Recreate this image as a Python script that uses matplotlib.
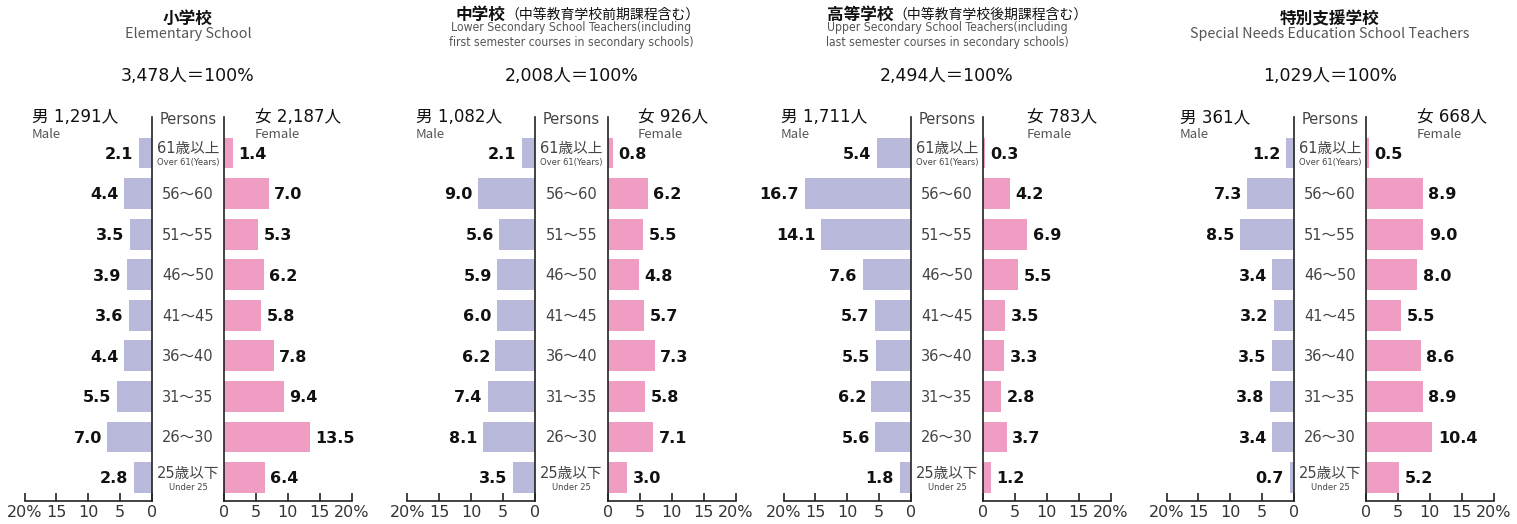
import matplotlib
matplotlib.use('Agg')
import matplotlib.pyplot as plt
from matplotlib import font_manager as fm

plt.rcParams['font.family'] = ['DejaVu Sans', 'Noto Sans CJK JP']

W, H = 1517, 524

# data (percent of teachers in each age group)
ages = ['61歳以上', '56〜60', '51〜55', '46〜50', '41〜45', '36〜40', '31〜35', '26〜30', '25歳以下']
age_sub = {0: 'Over 61(Years)', 8: 'Under 25'}

titles = ['小学校', '中学校', '高等学校', '特別支援学校']
title_notes = ['', '（中等教育学校前期課程含む）', '（中等教育学校後期課程含む）', '']
subtitles = [
    ['Elementary School'],
    ['Lower Secondary School Teachers(including', 'first semester courses in secondary schools)'],
    ['Upper Secondary School Teachers(including', 'last semester courses in secondary schools)'],
    ['Special Needs Education School Teachers'],
]
totals = ['3,478', '2,008', '2,494', '1,029']
male_n = ['1,291', '1,082', '1,711', '361']
female_n = ['2,187', '926', '783', '668']

male_pct = [
    [2.1, 4.4, 3.5, 3.9, 3.6, 4.4, 5.5, 7.0, 2.8],
    [2.1, 9.0, 5.6, 5.9, 6.0, 6.2, 7.4, 8.1, 3.5],
    [5.4, 16.7, 14.1, 7.6, 5.7, 5.5, 6.2, 5.6, 1.8],
    [1.2, 7.3, 8.5, 3.4, 3.2, 3.5, 3.8, 3.4, 0.7],
]
female_pct = [
    [1.4, 7.0, 5.3, 6.2, 5.8, 7.8, 9.4, 13.5, 6.4],
    [0.8, 6.2, 5.5, 4.8, 5.7, 7.3, 5.8, 7.1, 3.0],
    [0.3, 4.2, 6.9, 5.5, 3.5, 3.3, 2.8, 3.7, 1.2],
    [0.5, 8.9, 9.0, 8.0, 5.5, 8.6, 8.9, 10.4, 5.2],
]

male_color = '#b9b9dc'
female_color = '#f09dc4'

# a narrow face for the small English notes, if one is installed
names = {f.name for f in fm.fontManager.ttflist}
cond = dict(family=['Noto Sans CJK JP', 'DejaVu Sans'])
shrink = 0.8
if 'Liberation Sans Narrow' in names:
    cond = dict(family=['Liberation Sans Narrow', 'Noto Sans CJK JP'])
    shrink = 0.95
elif any(f.name == 'DejaVu Sans' and f.stretch == 'condensed' for f in fm.fontManager.ttflist):
    cond = dict(family=['DejaVu Sans', 'Noto Sans CJK JP'], stretch='condensed')
    shrink = 0.87
cjk = ['Noto Sans CJK JP', 'DejaVu Sans']

# layout in pixels
male_zero = [152, 535, 911, 1294]
female_zero = [224, 608, 983, 1366]
male_head_x = [32, 416, 781, 1180]
female_head_x = [255, 638, 1027, 1417]
title_split = [None, 505, 893, None]
axis_w = 127.5
ax_top, ax_bot = 117, 501
row0, pitch = 153, 40.56


def fx(x):
    return x / W


def fy(y):
    return 1 - y / H


fig = plt.figure(figsize=(W / 100, H / 100), dpi=100)

ylo = (ax_bot - row0) / pitch
yhi = (ax_top - row0) / pitch

for p in range(4):
    m0, f0 = male_zero[p], female_zero[p]
    cx = (m0 + f0) / 2

    axm = fig.add_axes([fx(m0 - axis_w), fy(ax_bot), axis_w / W, (ax_bot - ax_top) / H])
    axf = fig.add_axes([fx(f0), fy(ax_bot), axis_w / W, (ax_bot - ax_top) / H])

    axm.barh(range(9), male_pct[p], height=0.76, color=male_color)
    axf.barh(range(9), female_pct[p], height=0.76, color=female_color)

    axm.set_xlim(20, 0)
    axf.set_xlim(0, 20)
    for ax in (axm, axf):
        ax.set_ylim(ylo, yhi)
        ax.set_yticks([])
        ax.patch.set_alpha(0)
        ax.spines['top'].set_visible(False)
        for s in ('left', 'right', 'bottom'):
            ax.spines[s].set_linewidth(1.2)
            ax.spines[s].set_color('#222222')
        ax.tick_params(axis='x', direction='in', length=6, width=1.2,
                       color='#222222', labelsize=11.5, labelcolor='#333333', pad=3)
    axm.spines['left'].set_visible(False)
    axf.spines['right'].set_visible(False)
    axm.set_xticks([20, 15, 10, 5, 0], ['20%', '15', '10', '5', '0'])
    axf.set_xticks([0, 5, 10, 15, 20], ['0', '5', '10', '15', '20%'])

    for i in range(9):
        axm.annotate(f'{male_pct[p][i]:.1f}', (male_pct[p][i], i), xytext=(-4, -1),
                     textcoords='offset points', ha='right', va='center',
                     fontsize=11.5, fontweight='bold', color='#111111')
        axf.annotate(f'{female_pct[p][i]:.1f}', (female_pct[p][i], i), xytext=(4, -1),
                     textcoords='offset points', ha='left', va='center',
                     fontsize=11.5, fontweight='bold', color='#111111')
        y = row0 + pitch * i
        if i in age_sub:
            fig.text(fx(cx), fy(y - 4), ages[i], ha='center', va='center',
                     fontsize=10.5, color='#444444')
            fig.text(fx(cx), fy(y + 10), age_sub[i], ha='center', va='center',
                     fontsize=7.8 * shrink, color='#444444', **cond)
        else:
            fig.text(fx(cx), fy(y + 1), ages[i], ha='center', va='center',
                     fontsize=10.5, color='#444444')

    fig.text(fx(cx), fy(120), 'Persons', ha='center', va='center',
             fontsize=10.5, color='#444444')

    # headers
    fig.text(fx(male_head_x[p]), fy(117), f'男 {male_n[p]}人', ha='left', va='center',
             fontsize=12, color='#111111')
    fig.text(fx(male_head_x[p]), fy(134), 'Male', ha='left', va='center',
             fontsize=9.5, color='#555555', family=cjk)
    fig.text(fx(female_head_x[p]), fy(117), f'女 {female_n[p]}人', ha='left', va='center',
             fontsize=12, color='#111111')
    fig.text(fx(female_head_x[p]), fy(134), 'Female', ha='left', va='center',
             fontsize=9.5, color='#555555', family=cjk)

    fig.text(fx(cx), fy(76), f'{totals[p]}人＝100%', ha='center', va='center',
             fontsize=12.5, color='#111111')

    # titles
    if title_split[p] is None:
        fig.text(fx(cx), fy(19), titles[p], ha='center', va='center',
                 fontsize=12, fontweight='bold', color='#111111', family=cjk)
        fig.text(fx(cx), fy(34), subtitles[p][0], ha='center', va='center',
                 fontsize=10.3, color='#555555', family=cjk)
    else:
        fig.text(fx(title_split[p]), fy(15), titles[p], ha='right', va='center',
                 fontsize=12, fontweight='bold', color='#111111', family=cjk)
        fig.text(fx(title_split[p]), fy(15), title_notes[p], ha='left', va='center',
                 fontsize=10, color='#111111', family=cjk)
        for k, line in enumerate(subtitles[p]):
            fig.text(fx(cx), fy(28 + 14.5 * k), line, ha='center', va='center',
                     fontsize=10 * shrink, color='#555555', **cond)

fig.savefig('out.png', dpi=100)
